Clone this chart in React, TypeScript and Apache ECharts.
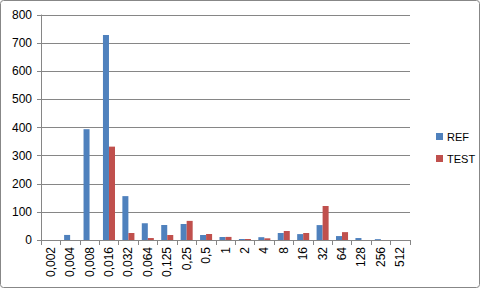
import React, { useEffect, useRef } from "react";
import * as echarts from "echarts";

const categories = ["0,002", "0,004", "0,008", "0,016", "0,032", "0,064", "0,125", "0,25", "0,5", "1", "2", "4", "8", "16", "32", "64", "128", "256", "512"];
const refValues = [0, 18, 394, 729, 156, 60, 53, 57, 18, 11, 4, 10, 25, 21, 53, 14, 7, 3, 0];
const testValues = [0, 0, 0, 332, 25, 7, 18, 68, 21, 11, 4, 6, 32, 25, 121, 28, 0, 0, 0];
const yTicks = { min: 0, max: 800, interval: 100 };

export default function App() {
  const ref = useRef<HTMLDivElement>(null);
  useEffect(() => {
    const chart = echarts.init(ref.current!, null, { renderer: "svg" });
    const font = "Liberation Sans, Arial, sans-serif";
    chart.setOption({
      animation: false,
      backgroundColor: "#fff",
      graphic: [
        {
          type: "rect",
          shape: { x: 0.5, y: 0.5, width: 479, height: 287, r: 3 },
          style: { fill: "none", stroke: "#878787", lineWidth: 1 },
          silent: true,
        },
      ],
      legend: {
        orient: "vertical",
        left: 431,
        top: 126,
        itemWidth: 7,
        itemHeight: 7,
        itemGap: 11,
        icon: "rect",
        textStyle: {
          fontFamily: "Liberation Sans Narrow, Arial Narrow, Liberation Sans, sans-serif",
          fontSize: 11,
          color: "#000",
          padding: [0, 0, 0, -1],
        },
        data: ["REF", "TEST"],
      },
      grid: { left: 41, right: 71, top: 15, bottom: 49, containLabel: false },
      xAxis: {
        type: "category",
        data: categories,
        boundaryGap: true,
        axisLine: { show: true, lineStyle: { color: "#868686", width: 1 } },
        axisTick: { show: true, length: 5, alignWithLabel: false, lineStyle: { color: "#868686" } },
        axisLabel: {
          rotate: 90,
          interval: 0,
          margin: 7,
          fontFamily: font,
          fontSize: 12,
          color: "#000",
        },
      },
      yAxis: {
        type: "value",
        min: yTicks.min,
        max: yTicks.max,
        interval: yTicks.interval,
        axisLine: { show: true, lineStyle: { color: "#868686" } },
        axisTick: { show: true, length: 4, lineStyle: { color: "#868686" } },
        splitLine: { show: true, lineStyle: { color: "#868686", width: 1 } },
        axisLabel: { fontFamily: font, fontSize: 12, color: "#000", margin: 9 },
      },
      series: [
        {
          name: "REF",
          type: "bar",
          data: refValues,
          barGap: "0%",
          barCategoryGap: "38%",
          itemStyle: { color: "#4F81BD" },
        },
        {
          name: "TEST",
          type: "bar",
          data: testValues,
          barGap: "0%",
          barCategoryGap: "38%",
          itemStyle: { color: "#C0504D" },
        },
      ],
    });
    return () => chart.dispose();
  }, []);
  return (
    <div
      ref={ref}
      style={{ position: "absolute", left: 0, top: 0, width: 481, height: 289 }}
    />
  );
}
